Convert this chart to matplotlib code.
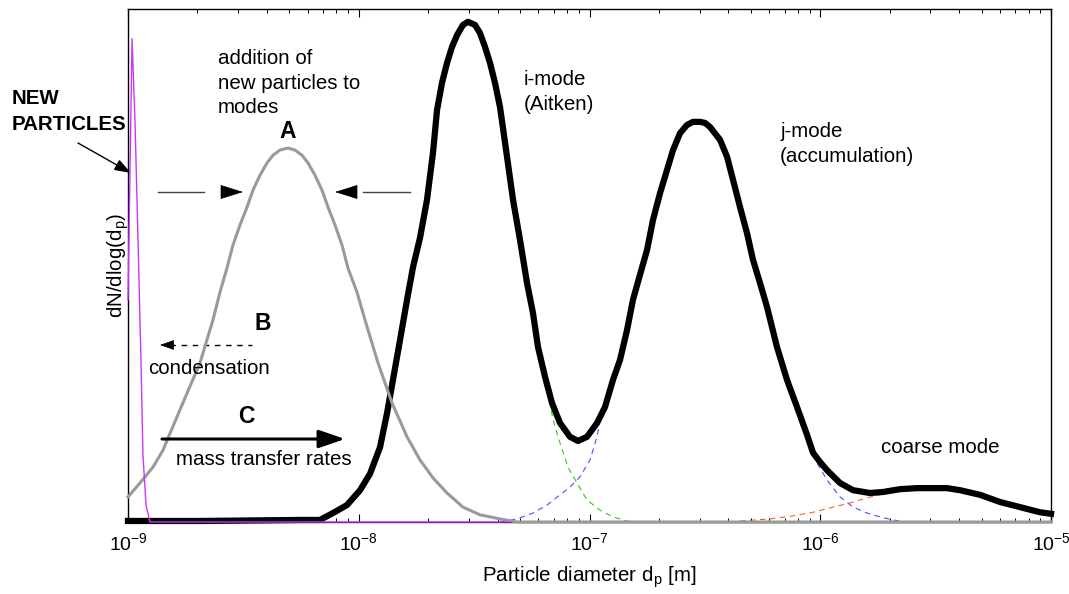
import numpy as np
import matplotlib
matplotlib.use("Agg")
import matplotlib.pyplot as plt

plt.rcParams['font.family'] = ['Liberation Sans', 'DejaVu Sans']
plt.rcParams['mathtext.fontset'] = 'custom'
plt.rcParams['mathtext.rm'] = 'Liberation Sans'
plt.rcParams['mathtext.it'] = 'Liberation Sans:italic'
plt.rcParams['mathtext.bf'] = 'Liberation Sans:bold'
plt.rcParams['axes.unicode_minus'] = False

# diameters in nm, dN/dlog(dp) in arbitrary units (axis top = 100)
total_d = [1.0, 2.05, 5.57, 6.79, 7.73, 8.89, 10.13, 11.19, 12.37, 13.26, 14.07, 15.10,
           16.19, 17.19, 18.43, 19.76, 20.98, 21.84, 22.95, 24.13, 25.36, 26.66, 28.30,
           29.75, 31.90, 33.54, 35.25, 37.05, 38.94, 40.94, 43.91, 46.62, 49.98, 53.60,
           56.91, 59.82, 64.15, 68.79, 74.50, 82.33, 89.17, 97.54, 107.8, 116.7, 126.4,
           135.6, 145.4, 154.3, 165.5, 177.5, 188.5, 202.1, 216.7, 230.1, 246.8, 264.6,
           280.9, 301.2, 316.6, 332.9, 367.8, 394.5, 418.8, 449.0, 481.6, 511.2, 548.2,
           588.0, 649.5, 717.7, 793.2, 876.3, 930.3, 997.5, 1070, 1218, 1387, 1643, 1871,
           2216, 2626, 3542, 4034, 4924, 6012, 7339, 8961, 10000]
total_n = [0.2, 0.2, 0.4, 0.4, 1.75, 3.3, 6.2, 9.4, 14.6, 21.2, 27.7, 35.5,
           43.3, 49.7, 55.4, 62.8, 72.0, 80.3, 85.6, 89.5, 92.6, 94.9, 96.9,
           97.5, 96.9, 95.3, 92.6, 89.5, 85.6, 80.9, 71.2, 62.8, 55.0, 46.6,
           40.7, 34.1, 28.3, 23.2, 19.3, 16.6, 15.8, 16.6, 19.3, 22.4, 27.7,
           31.6, 37.4, 43.3, 48.2, 53.0, 58.9, 64.1, 68.6, 72.5, 75.8, 77.4,
           78.0, 78.0, 77.8, 77.0, 74.5, 71.2, 66.7, 61.4, 56.3, 51.1, 46.6,
           41.9, 34.1, 27.7, 22.4, 17.0, 13.5, 11.7, 10.1, 7.6, 6.2, 5.65, 5.85,
           6.4, 6.6, 6.6, 6.2, 5.3, 3.9, 2.9, 1.9, 1.6]

# nucleation mode (grey)
nuc_d = [1.0, 1.127, 1.283, 1.418, 1.521, 1.802, 2.051, 2.335, 2.504, 2.685, 2.851,
         3.058, 3.280, 3.481, 3.733, 4.004, 4.250, 4.557, 4.936, 5.293, 5.677, 6.027,
         6.462, 6.929, 7.356, 7.889, 8.461, 8.982, 9.826, 10.64, 12.12, 13.94, 16.19,
         18.42, 20.98, 24.13, 28.30, 33.54, 40.94, 48.52, 10000]
nuc_n = [4.9, 7.6, 10.7, 14.0, 17.3, 25.1, 31.0, 39.4, 44.8, 49.5, 54.0,
         57.9, 61.4, 64.7, 67.6, 70.0, 71.5, 72.5, 72.9, 72.5, 71.5, 70.0,
         67.6, 64.7, 61.4, 57.9, 54.0, 49.5, 44.8, 39.4, 31.0, 23.2, 16.6,
         12.1, 8.6, 5.65, 2.9, 1.4, 0.6, 0, 0]

# new particles (magenta)
new_d = [1.0, 1.041, 1.072, 1.105, 1.138, 1.161, 1.197, 1.245, 45.2]
new_n = [43.3, 94.2, 78.4, 55.0, 31.6, 13.1, 3.3, 0, 0]

# dashed mode tails
i_tail_d = [53.60, 56.91, 61.03, 65.44, 69.48, 74.50, 80.70, 88.28, 97.54, 111.0, 126.4, 145.4, 160.6]
i_tail_n = [46.6, 40.7, 32.2, 26.3, 19.9, 15.4, 10.7, 7.6, 4.3, 2.3, 1.0, 0.2, 0]
j_left_d = [40.94, 48.52, 56.91, 65.44, 74.50, 82.33, 90.95, 100.5, 107.8, 113.3]
j_left_n = [0, 0.6, 1.75, 3.3, 5.3, 6.8, 8.8, 12.1, 16.6, 21.8]
j_right_d = [793.2, 876.3, 968.0, 1070, 1218, 1387, 1594, 1815, 2067, 2376]
j_right_n = [22.4, 15.8, 11.5, 8.2, 4.9, 2.9, 1.75, 1.0, 0.4, 0]
coarse_d = [449.0, 605.7, 762.1, 930.3, 1136, 1345, 1594, 1871, 2216]
coarse_n = [0.2, 0.6, 1.2, 1.9, 2.9, 3.7, 4.7, 5.5, 6.2]

W, H = 1069, 594
fig = plt.figure(figsize=(W / 100, H / 100), dpi=100)
ax = fig.add_axes([128 / W, 1 - 522 / H, 923 / W, 513 / H])


def nm(v):
    return np.array(v) * 1e-9


def pos(x, y):
    # pixel position -> axes fraction
    return ((x - 128) / 923, (522 - y) / 513)


dash = (0, (5, 4))
ax.plot(nm(i_tail_d), i_tail_n, color='#33cc00', lw=0.8, ls=dash, zorder=1)
ax.plot(nm(j_left_d), j_left_n, color='#4d4dff', lw=0.8, ls=dash, zorder=1)
ax.plot(nm(j_right_d), j_right_n, color='#4d4dff', lw=0.8, ls=dash, zorder=1)
ax.plot(nm(coarse_d), coarse_n, color='#ff5a33', lw=0.8, ls=dash, zorder=1)
ax.plot(nm(total_d), total_n, color='black', lw=4.5, zorder=2, clip_on=False,
        solid_joinstyle='round')
ax.plot(nm(nuc_d), nuc_n, color='#9a9a9a', lw=2.2, zorder=3, clip_on=False,
        solid_joinstyle='round')
ax.plot(nm(new_d), new_n, color='#cc33ff', lw=1.0, zorder=4, clip_on=False)

ax.set_xscale('log')
ax.set_xlim(1e-9, 1e-5)
ax.set_ylim(0, 100)
ax.set_yticks([])
ax.set_xticks([1e-9, 1e-8, 1e-7, 1e-6, 1e-5])
ax.tick_params(axis='x', which='both', direction='in', top=True, labelsize=14, pad=7)
ax.tick_params(axis='x', which='major', length=6, width=0.8)
ax.tick_params(axis='x', which='minor', length=3, width=0.7)
for s in ax.spines.values():
    s.set_linewidth(1.0)

ax.set_xlabel('Particle diameter d$_\\mathrm{p}$ [m]', fontsize=14.8)
ax.xaxis.set_label_coords(0.5, pos(0, 564)[1])
ax.set_ylabel('dN/dlog(d$_\\mathrm{p}$)', fontsize=14.8)
ax.yaxis.set_label_coords(pos(131, 0)[0], 0.5)

fs = 14.8
tkw = dict(transform=ax.transAxes, ha='left', va='baseline', fontsize=fs, clip_on=False)
ax.text(*pos(12, 104), 'NEW', fontweight='bold', **tkw)
ax.text(*pos(12, 130), 'PARTICLES', fontweight='bold', **tkw)
ax.text(*pos(218, 64), 'addition of', **tkw)
ax.text(*pos(218, 89), 'new particles to', **tkw)
ax.text(*pos(218, 113), 'modes', **tkw)
ax.text(*pos(524, 85), 'i-mode', **tkw)
ax.text(*pos(524, 110), '(Aitken)', **tkw)
ax.text(*pos(780, 137), 'j-mode', **tkw)
ax.text(*pos(780, 162), '(accumulation)', **tkw)
ax.text(*pos(881, 453), 'coarse mode', **tkw)
ax.text(*pos(148, 374), 'condensation', **tkw)
ax.text(*pos(176, 465), 'mass transfer rates', **tkw)

bkw = dict(transform=ax.transAxes, ha='center', va='baseline', fontsize=16.5,
           fontweight='bold')
ax.text(*pos(288, 138), 'A', **bkw)
ax.text(*pos(263, 330), 'B', **bkw)
ax.text(*pos(246, 423), 'C', **bkw)


def arrow(x0, y0, x1, y1, style, lw=1.0):
    ax.annotate('', xy=pos(x1, y1), xytext=pos(x0, y0), xycoords='axes fraction',
                textcoords='axes fraction', annotation_clip=False,
                arrowprops=dict(arrowstyle=style, color='black', lw=lw,
                                shrinkA=0, shrinkB=0, mutation_scale=10))


def seg(x0, x1, y, **kw):
    p0, p1 = pos(x0, y), pos(x1, y)
    ax.plot([p0[0], p1[0]], [p0[1], p1[1]], transform=ax.transAxes, clip_on=False, **kw)


# NEW PARTICLES pointer
arrow(78, 143, 131, 173, '-|>,head_length=1.0,head_width=0.35', lw=1.0)
# A: width arrows
seg(158, 204, 192, color='#444444', lw=1.0)
arrow(222, 192, 243, 192, '-|>,head_length=1.5,head_width=0.47', lw=0.5)
seg(363, 410, 192, color='#444444', lw=1.0)
arrow(356, 192, 335, 192, '-|>,head_length=1.5,head_width=0.47', lw=0.5)
# B: condensation, dashed
seg(170, 252, 345, color='black', lw=1.0, ls=(0, (4, 4)))
arrow(172, 345, 160, 345, '-|>,head_length=0.9,head_width=0.32', lw=0.5)
# C: mass transfer, solid
arrow(162, 439, 345, 439, '-|>,head_length=1.6,head_width=0.55', lw=2.2)

fig.savefig('out.png', dpi=100)
